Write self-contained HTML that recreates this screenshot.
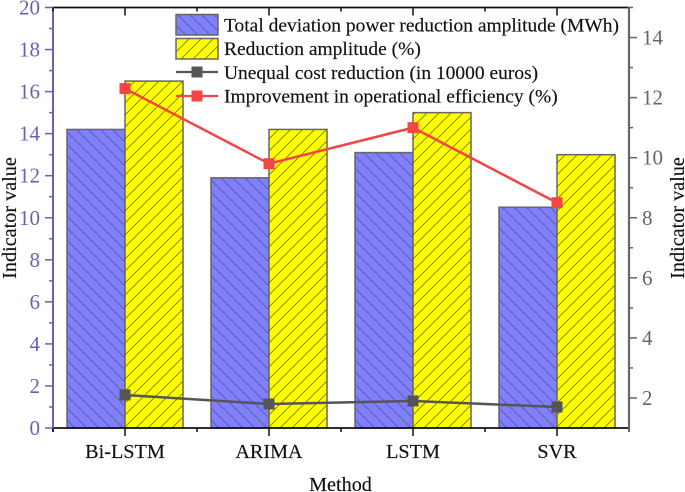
<!DOCTYPE html>
<html>
<head>
<meta charset="utf-8">
<style>
html,body{margin:0;padding:0;background:#fff;width:685px;height:492px;overflow:hidden}
svg{display:block;font-family:"Liberation Serif",serif}
</style>
</head>
<body>
<svg id="chart" xmlns="http://www.w3.org/2000/svg" width="685" height="492" viewBox="0 0 685 492">
<defs>
<pattern id="hatch-blue" patternUnits="userSpaceOnUse" width="12" height="12" patternTransform="translate(67 0)">
<rect width="12" height="12" fill="#7f7fff"/>
<path d="M-3 -3L15 15M-3 9L3 15M9 -3L15 3" stroke="#5c5c8c" stroke-width="0.9"/>
</pattern>
<pattern id="hatch-yellow" patternUnits="userSpaceOnUse" width="12" height="12">
<rect width="12" height="12" fill="#ffff00"/>
<path d="M-3 15L15 -3M-3 3L3 -3M9 15L15 9" stroke="#77772a" stroke-width="0.9"/>
</pattern>
</defs>
<g id="bars"></g>
<g id="axes"></g>
<g id="lines"></g>
<g font-size="19.48" fill="#111" stroke="#111" stroke-width="0.15">
<rect x="176" y="14.5" width="42" height="20.5" fill="url(#hatch-blue)" stroke="#666" stroke-width="1.5"/>
<text x="224" y="31.5">Total deviation power reduction amplitude (MWh)</text>
<rect x="176" y="38.5" width="42" height="20.5" fill="url(#hatch-yellow)" stroke="#666" stroke-width="1.5"/>
<text x="224" y="55">Reduction amplitude (%)</text>
<line x1="176" x2="218" y1="72" y2="72" stroke="#555" stroke-width="2.2"/>
<rect x="191.5" y="66.5" width="11" height="11" fill="#555" stroke="none"/>
<text x="224" y="79">Unequal cost reduction (in 10000 euros)</text>
<line x1="176" x2="218" y1="96" y2="96" stroke="#f44444" stroke-width="2.2"/>
<rect x="191.5" y="90.5" width="11" height="11" fill="#f44444" stroke="none"/>
<text x="224" y="102.5">Improvement in operational efficiency (%)</text>
</g>
<text x="340.5" y="491" font-size="20.2" text-anchor="middle" fill="#111" stroke="#111" stroke-width="0.15">Method</text>
<text transform="translate(16 218) rotate(-90)" font-size="20.2" text-anchor="middle" fill="#111" stroke="#111" stroke-width="0.15">Indicator value</text>
<text transform="translate(684 218) rotate(-90)" font-size="20.2" text-anchor="middle" fill="#111" stroke="#111" stroke-width="0.15">Indicator value</text>
<script>
const categories = ["Bi-LSTM", "ARIMA", "LSTM", "SVR"];
const deviationPower = [14.2, 11.9, 13.1, 10.5];
const reductionAmplitude = [16.5, 14.2, 15, 13];
const costReduction = [2.1, 1.8, 1.9, 1.7];
const efficiency = [12.3, 9.8, 11, 8.5];
const leftTicks = [0, 2, 4, 6, 8, 10, 12, 14, 16, 18, 20];
const rightTicks = [2, 4, 6, 8, 10, 12, 14];

const NS = "http://www.w3.org/2000/svg";
const plot = { left: 53, right: 629, top: 7.5, bottom: 428 };
const leftMax = 20;
const rightMin = 1, rightMax = 15;
const LEFT_COLOR = "#6464b4", RIGHT_COLOR = "#666666", BAR_W = 58;
const xBand = (plot.right - plot.left) / categories.length;
function xScale(i) { return plot.left + xBand * (i + 0.5); }
function yLeft(v) { return plot.bottom - (v / leftMax) * (plot.bottom - plot.top); }
function yRight(v) { return plot.bottom - ((v - rightMin) / (rightMax - rightMin)) * (plot.bottom - plot.top); }
function make(tag, attrs, parent) {
  const el = document.createElementNS(NS, tag);
  for (const k in attrs) el.setAttribute(k, attrs[k]);
  parent.appendChild(el);
  return el;
}
const barsG = document.getElementById("bars");
const axesG = document.getElementById("axes");
const linesG = document.getElementById("lines");

categories.forEach(function (c, i) {
  const x = xScale(i);
  const b1 = make("rect", { x: x - BAR_W, y: yLeft(deviationPower[i]), width: BAR_W, height: plot.bottom - yLeft(deviationPower[i]), fill: "url(#hatch-blue)", stroke: "#666", "stroke-width": 1.5 }, barsG);
  
  
  const b2 = make("rect", { x: x, y: yLeft(reductionAmplitude[i]), width: BAR_W, height: plot.bottom - yLeft(reductionAmplitude[i]), fill: "url(#hatch-yellow)", stroke: "#666", "stroke-width": 1.5 }, barsG);
  
  
});

function axisLine(x1, y1, x2, y2, color, w, name) {
  const l = make("line", { x1: x1, y1: y1, x2: x2, y2: y2, stroke: color, "stroke-width": w }, axesG);
  
  
}
axisLine(plot.left - 1, plot.top, plot.right, plot.top, "#111", 1.8, "top-axis-line");
axisLine(plot.left - 1, plot.bottom, plot.right + 1, plot.bottom, "#111", 1.8, "bottom-axis-line");
axisLine(plot.left, plot.top - 1, plot.left, plot.bottom + 4, LEFT_COLOR, 2, "left-axis-line");
axisLine(plot.right, plot.top - 1, plot.right, plot.bottom + 4, RIGHT_COLOR, 2.2, "right-axis-line");

leftTicks.forEach(function (v, i) {
  const y = yLeft(v);
  axisLine(plot.left - 8, y, plot.left, y, LEFT_COLOR, 1.5, "left-major-tick");
  if (i < leftTicks.length - 1) {
    const my = yLeft((v + leftTicks[i + 1]) / 2);
    axisLine(plot.left - 4, my, plot.left, my, LEFT_COLOR, 1.5, "left-minor-tick");
  }
  const t = make("text", { x: plot.left - 13, y: y + 7, "text-anchor": "end", "font-size": 21, fill: LEFT_COLOR }, axesG);
  
  
  t.textContent = v;
});

rightTicks.forEach(function (v) {
  const y = yRight(v);
  axisLine(plot.right, y, plot.right + 8, y, RIGHT_COLOR, 1.5, "right-major-tick");
  const my = yRight(v + 1);
  axisLine(plot.right, my, plot.right + 4, my, RIGHT_COLOR, 1.5, "right-minor-tick");
  const t = make("text", { x: plot.right + 13, y: y + 7, "text-anchor": "start", "font-size": 21, fill: RIGHT_COLOR }, axesG);
  
  
  t.textContent = v;
});

categories.forEach(function (c, i) {
  const x = xScale(i);
  axisLine(x, plot.bottom, x, plot.bottom + 8, "#111", 1.5, "x-major-tick");
  axisLine(x, plot.top, x, plot.top + 8, "#111", 1.5, "top-major-tick");
  const edge = plot.left + xBand * i;
  axisLine(edge, plot.bottom, edge, plot.bottom + 4, "#111", 1.5, "x-minor-tick");
  axisLine(edge, plot.top, edge, plot.top + 4, "#111", 1.5, "top-minor-tick");
  const t = make("text", { x: x, y: 458, "text-anchor": "middle", "font-size": 20.2, fill: "#111", stroke: "#111", "stroke-width": 0.15 }, axesG);
  
  
  t.textContent = c;
});

function drawSeries(values, color, name) {
  const pts = values.map(function (v, i) { return xScale(i) + "," + yRight(v); }).join(" ");
  const pl = make("polyline", { points: pts, fill: "none", stroke: color, "stroke-width": 2.5 }, linesG);
  
  
  values.forEach(function (v, i) {
    const m = make("rect", { x: xScale(i) - 5.5, y: yRight(v) - 5.5, width: 11, height: 11, fill: color }, linesG);
    
    
  });
}
drawSeries(costReduction, "#555555", "cost-reduction");
drawSeries(efficiency, "#f44444", "efficiency");
</script>
</svg>
</body>
</html>
